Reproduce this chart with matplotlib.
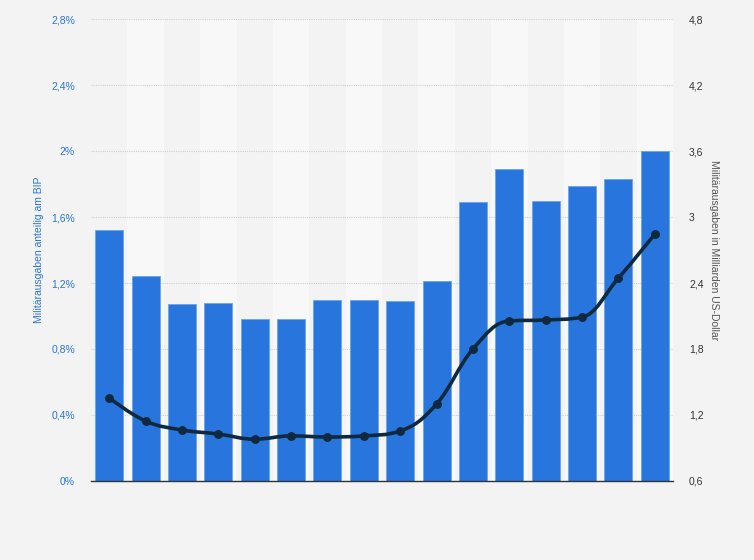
import numpy as np
import matplotlib
matplotlib.use('Agg')
import matplotlib.pyplot as plt
from matplotlib.path import Path
from matplotlib.patches import PathPatch

plt.rcParams['font.family'] = ['Liberation Sans', 'DejaVu Sans']

# data
share_gdp = [1.52, 1.24, 1.07, 1.08, 0.98, 0.98, 1.10, 1.10, 1.09, 1.21,
             1.69, 1.89, 1.70, 1.79, 1.83, 2.00]
spending_bn = [1.355, 1.145, 1.064, 1.027, 0.98, 1.01, 1.0, 1.01, 1.055, 1.30,
               1.80, 2.055, 2.064, 2.09, 2.445, 2.845]
left_ticks = [0, 0.4, 0.8, 1.2, 1.6, 2.0, 2.4, 2.8]
left_labels = ['0%', '0,4%', '0,8%', '1,2%', '1,6%', '2%', '2,4%', '2,8%']
right_ticks = [0.6, 1.2, 1.8, 2.4, 3.0, 3.6, 4.2, 4.8]
right_labels = ['0,6', '1,2', '1,8', '2,4', '3', '3,6', '4,2', '4,8']
left_title = 'Militärausgaben anteilig am BIP'
right_title = 'Militärausgaben in Milliarden US-Dollar'

BLUE = '#2876dd'
NAVY = '#0f2a3f'
BG = '#f3f3f3'
BAND = '#f8f8f8'

def spline_path(xs, ys, smoothing=1.5):
    # highcharts-like spline: cubic bezier with control points from neighbours
    n = len(xs)
    denom = smoothing + 1
    lefts, rights = [None]*n, [None]*n
    for i in range(n):
        if i == 0 or i == n-1:
            lefts[i] = (xs[i], ys[i])
            rights[i] = (xs[i], ys[i])
            continue
        lx = (smoothing*xs[i] + xs[i-1]) / denom
        ly = (smoothing*ys[i] + ys[i-1]) / denom
        rx = (smoothing*xs[i] + xs[i+1]) / denom
        ry = (smoothing*ys[i] + ys[i+1]) / denom
        if rx != lx:
            corr = (ry - ly) * (rx - xs[i]) / (rx - lx) + ys[i] - ry
            ly += corr
            ry += corr
        if ly > max(ys[i-1], ys[i]):
            ly = max(ys[i-1], ys[i]); ry = 2*ys[i] - ly
        elif ly < min(ys[i-1], ys[i]):
            ly = min(ys[i-1], ys[i]); ry = 2*ys[i] - ly
        if ry > max(ys[i+1], ys[i]):
            ry = max(ys[i+1], ys[i]); ly = 2*ys[i] - ry
        elif ry < min(ys[i+1], ys[i]):
            ry = min(ys[i+1], ys[i]); ly = 2*ys[i] - ry
        lefts[i] = (lx, ly)
        rights[i] = (rx, ry)
    verts = [(xs[0], ys[0])]
    codes = [Path.MOVETO]
    for i in range(1, n):
        verts += [rights[i-1], lefts[i], (xs[i], ys[i])]
        codes += [Path.CURVE4]*3
    return Path(verts, codes)

fig = plt.figure(figsize=(7.54, 5.6), dpi=100, facecolor=BG)
ax = fig.add_subplot(111)
fig.subplots_adjust(left=0.1207, right=0.8926, top=0.966, bottom=0.1411)
ax.set_facecolor(BG)

x = np.arange(len(share_gdp))
for i in x:
    if i % 2 == 1:
        ax.axvspan(i-0.5, i+0.5, color=BAND, zorder=0, lw=0)

ax.bar(x, share_gdp, width=0.77, color=BLUE, edgecolor='#6aa5ec', linewidth=0.6, zorder=2)
ax.set_xlim(-0.5, len(x)-0.5)
ax.set_ylim(0, 2.8)
ax.set_yticks(left_ticks)
ax.set_yticklabels(left_labels)
ax.set_xticks([])
ax.grid(axis='y', color='#cfcfcf', linestyle=(0, (1, 1)), linewidth=0.8, zorder=1)
ax.set_axisbelow(True)
for s in ['top', 'right', 'left']:
    ax.spines[s].set_visible(False)
ax.spines['bottom'].set_color('#333333')
ax.spines['bottom'].set_linewidth(1.0)
ax.spines['bottom'].set_zorder(3)
ax.tick_params(axis='y', length=0, pad=11.5, labelsize=7.5, labelcolor=BLUE)
ax.set_ylabel(left_title, color=BLUE, fontsize=7.5, va='center')
ax.yaxis.set_label_coords(-0.0893, 0.5)

ax2 = ax.twinx()
ax2.set_ylim(0.6, 4.8)
ax2.set_yticks(right_ticks)
ax2.set_yticklabels(right_labels)
for s in ['top', 'right', 'left', 'bottom']:
    ax2.spines[s].set_visible(False)
ax2.tick_params(axis='y', length=0, pad=11.5, labelsize=7.5, labelcolor='#333333')
ax2.set_ylabel(right_title, color='#555555', fontsize=7.5, rotation=-90, va='center')
ax2.yaxis.set_label_coords(1.0705, 0.5)

path = spline_path(list(x.astype(float)), spending_bn)
ax2.add_patch(PathPatch(path, facecolor='none', edgecolor=NAVY, linewidth=2.6,
                        capstyle='round', joinstyle='round', zorder=4))
ax2.plot(x, spending_bn, linestyle='none', marker='o', markersize=5.4, color=NAVY, zorder=5)

fig.savefig('out.png', dpi=100, facecolor=BG)
